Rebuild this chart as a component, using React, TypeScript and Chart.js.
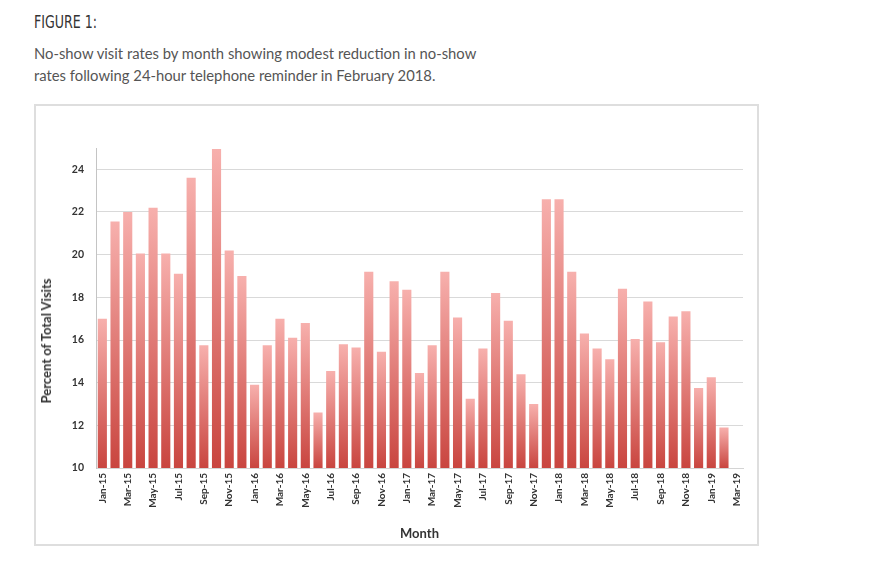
import React, { useEffect, useRef } from "react";
import { Chart, registerables } from "chart.js";

Chart.register(...registerables);

const months: string[] = [
  "Jan-15", "Feb-15", "Mar-15", "Apr-15", "May-15", "Jun-15", "Jul-15", "Aug-15", "Sep-15", "Oct-15", "Nov-15", "Dec-15",
  "Jan-16", "Feb-16", "Mar-16", "Apr-16", "May-16", "Jun-16", "Jul-16", "Aug-16", "Sep-16", "Oct-16", "Nov-16", "Dec-16",
  "Jan-17", "Feb-17", "Mar-17", "Apr-17", "May-17", "Jun-17", "Jul-17", "Aug-17", "Sep-17", "Oct-17", "Nov-17", "Dec-17",
  "Jan-18", "Feb-18", "Mar-18", "Apr-18", "May-18", "Jun-18", "Jul-18", "Aug-18", "Sep-18", "Oct-18", "Nov-18", "Dec-18",
  "Jan-19", "Feb-19", "Mar-19",
];

const noShowRates: (number | null)[] = [
  17.0, 21.55, 22.0, 20.05, 22.2, 20.05, 19.1, 23.6, 15.75, 24.95, 20.2, 19.0,
  13.9, 15.75, 17.0, 16.1, 16.8, 12.6, 14.55, 15.8, 15.65, 19.2, 15.45, 18.75,
  18.35, 14.45, 15.75, 19.2, 17.05, 13.25, 15.6, 18.2, 16.9, 14.4, 13.0, 22.6,
  22.6, 19.2, 16.3, 15.6, 15.1, 18.4, 16.05, 17.8, 15.9, 17.1, 17.35, 13.75,
  14.25, 11.9, null,
];

const yTickValues: number[] = [10, 12, 14, 16, 18, 20, 22, 24];

const figureLabel = "FIGURE 1:";
const captionLines: string[] = [
  "No-show visit rates by month showing modest reduction in no-show",
  "rates following 24-hour telephone reminder in February 2018.",
];
const yTitle = "Percent of Total Visits";
const xTitle = "Month";

export default function App() {
  const canvasRef = useRef<HTMLCanvasElement | null>(null);

  useEffect(() => {
    const canvas = canvasRef.current;
    if (!canvas) return;
    const chart = new Chart(canvas, {
      type: "bar",
      data: {
        labels: months,
        datasets: [
          {
            data: noShowRates,
            backgroundColor: (ctx: any) => {
              const c = ctx.chart;
              const fallback = "#e07470";
              if (!c.chartArea || ctx.type !== "data") return fallback;
              const v = ctx.raw;
              if (v == null) return fallback;
              const ys = c.scales.y;
              const top = ys.getPixelForValue(v);
              const base = ys.getPixelForValue(ys.min);
              if (!isFinite(top) || !isFinite(base) || base <= top) return fallback;
              const g = c.ctx.createLinearGradient(0, top, 0, base);
              g.addColorStop(0, "#f7b0ad");
              g.addColorStop(1, "#c9453f");
              return g;
            },
            borderWidth: 0,
            categoryPercentage: 1,
            barPercentage: 0.72,
          },
        ],
      },
      options: {
        animation: false,
        responsive: false,
        maintainAspectRatio: false,
        layout: { padding: { left: 0, right: 14, top: 42, bottom: 0 } },
        plugins: {
          legend: { display: false },
          tooltip: { enabled: false },
          title: { display: false },
        },
        scales: {
          x: {
            grid: { display: false, drawTicks: false },
            border: { display: true, color: "#d4d4d4" },
            ticks: {
              autoSkip: false,
              minRotation: 90,
              maxRotation: 90,
              padding: 5,
              color: "#333333",
              font: { family: "Lato", size: 10, weight: "bold" },
              callback: (_v: any, i: number) => (i % 2 === 0 ? months[i] : ""),
            },
            title: {
              display: true,
              text: xTitle,
              color: "#333333",
              font: { family: "Lato", size: 13, weight: "bold" },
              padding: { top: 0, bottom: 2 },
            },
            afterFit: (s: any) => {
              s.height = 76;
            },
          },
          y: {
            min: 10,
            max: 25,
            ticks: {
              stepSize: 2,
              padding: 12,
              color: "#333333",
              font: { family: "Lato", size: 10.5, weight: "bold" },
            },
            afterBuildTicks: (s: any) => {
              s.ticks = yTickValues.map((v) => ({ value: v }));
            },
            grid: { color: "#d9d9d9", lineWidth: 1, drawTicks: false },
            border: { display: true, color: "#c4c4c4" },
            afterFit: (s: any) => {
              s.width = 60;
            },
          },
        },
      },
    });
    return () => chart.destroy();
  }, []);

  return (
    <div
      style={{
        position: "absolute",
        left: 0,
        top: 0,
        width: 874,
        height: 585,
        background: "#ffffff",
        overflow: "hidden",
      }}
    >
      <div
        style={{
          position: "absolute",
          left: 34,
          top: 13,
          fontFamily: "'Liberation Sans Narrow', 'DejaVu Sans Condensed', sans-serif",
          fontSize: 18,
          lineHeight: "18px",
          color: "#333333",
          transform: "scaleX(0.78)",
          transformOrigin: "left top",
          whiteSpace: "nowrap",
        }}
      >
        {figureLabel}
      </div>
      <div
        style={{
          position: "absolute",
          left: 34,
          top: 43,
          fontFamily: "Lato, sans-serif",
          fontSize: 14.8,
          lineHeight: "21.5px",
          color: "#555555",
          whiteSpace: "nowrap",
        }}
      >
        {captionLines.map((l, i) => (
          <div key={i}>{l}</div>
        ))}
      </div>
      <div
        style={{
          position: "absolute",
          left: 34,
          top: 104,
          width: 725,
          height: 442,
          boxSizing: "border-box",
          border: "2px solid #dedede",
        }}
      />
      <canvas
        ref={canvasRef}
        width={721}
        height={438}
        style={{ position: "absolute", left: 36, top: 106, width: 721, height: 438 }}
      />
      <div
        style={{
          position: "absolute",
          left: 46,
          top: 341,
          transform: "translate(-50%, -50%) rotate(-90deg)",
          fontFamily: "Lato, sans-serif",
          fontWeight: "bold",
          fontSize: 13,
          color: "#333333",
          whiteSpace: "nowrap",
        }}
      >
        {yTitle}
      </div>
    </div>
  );
}
